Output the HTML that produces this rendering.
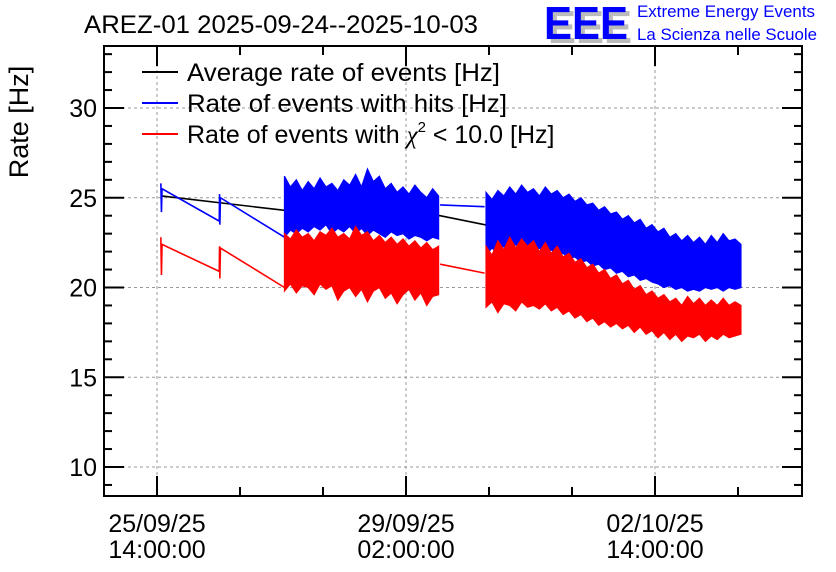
<!DOCTYPE html>
<html><head><meta charset="utf-8"><style>
body{margin:0;background:#fff;}
svg{display:block;font-family:"Liberation Sans",sans-serif;}
</style></head><body>
<svg id="chart" width="836" height="572" viewBox="0 0 836 572">
<text x="84" y="33" font-size="25" textLength="394" lengthAdjust="spacingAndGlyphs">AREZ-01 2025-09-24--2025-10-03</text>
<g>
<text x="548" y="43" font-size="46" fill="#bbb" font-weight="bold" textLength="84" lengthAdjust="spacingAndGlyphs">EEE</text>
<text x="544" y="39" font-size="46" fill="#0000ff" font-weight="bold" textLength="84" lengthAdjust="spacingAndGlyphs">EEE</text>
<text x="637" y="17" font-size="17" fill="#0000ff" textLength="178" lengthAdjust="spacingAndGlyphs">Extreme Energy Events</text>
<text x="637" y="40" font-size="17" fill="#0000ff" textLength="180" lengthAdjust="spacingAndGlyphs">La Scienza nelle Scuole</text>
</g>
<text transform="translate(28,122) rotate(-90)" text-anchor="middle" font-size="27">Rate [Hz]</text>
<g id="grid"></g>
<g id="series"></g>
<g id="axes"></g>
<g>
<line x1="142" y1="72" x2="178" y2="72" stroke="#000" stroke-width="2"/>
<text x="187" y="81" font-size="25" textLength="313" lengthAdjust="spacingAndGlyphs">Average rate of events [Hz]</text>
<line x1="142" y1="103" x2="178" y2="103" stroke="#0000ff" stroke-width="2"/>
<text x="187" y="112" font-size="25" textLength="320" lengthAdjust="spacingAndGlyphs">Rate of events with hits [Hz]</text>
<line x1="142" y1="134" x2="178" y2="134" stroke="#ff0000" stroke-width="2"/>
<text x="187" y="143" font-size="25">Rate of events with <tspan font-family="Liberation Serif" font-style="italic">χ</tspan><tspan font-size="15" dy="-11">2</tspan><tspan dy="11"> &lt; 10.0 [Hz]</tspan></text>
</g>
</svg>
<script>
// x: hours since 25/09/25 14:00
const xTickHours=[0,84,168];
const xTickLabels=[["25/09/25","14:00:00"],["29/09/25","02:00:00"],["02/10/25","14:00:00"]];
const yTicks=[10,15,20,25,30];
const blackT=[1.5,43,95.5,110.5,150,196];
const blackV=[25.1,24.3,24.0,23.5,23.0,21.3];
const blueSparseT=[1.3,1.5,1.7,21,21.1,21.2,21.4,43];
const blueSparseV=[25.8,24.2,25.5,23.7,25.2,23.5,25.0,22.8];
const blueGapT=[95.5,110.5];
const blueGapV=[24.6,24.5];
const redSparseT=[1.3,1.5,1.7,21,21.1,21.2,21.4,43];
const redSparseV=[22.8,20.7,22.4,20.9,22.3,20.5,22.2,20.0];
const redGapT=[95.5,110.5];
const redGapV=[21.3,20.8];
const seg1Start=43, seg2Start=111, stepH=2;
const blue1Hi=[26.2,25.6,26.0,25.4,25.9,25.5,26.1,25.6,25.8,25.4,26.0,25.7,26.3,25.6,26.6,25.9,26.2,25.5,25.8,25.3,25.6,25.2,25.7,25.3,25.0,25.5,25.1];
const blue1Lo=[22.8,23.2,23.0,23.3,23.1,23.4,23.2,23.5,23.0,23.3,23.1,23.4,23.0,23.3,22.9,23.2,23.0,22.8,23.1,22.9,23.0,22.7,22.9,22.8,22.6,22.8,22.7];
const red1Hi=[23.0,22.7,23.2,22.8,23.0,22.6,23.1,22.9,23.3,22.8,23.0,22.7,23.4,22.9,23.1,22.6,22.9,22.5,22.8,22.4,22.7,22.3,22.6,22.2,22.5,22.1,22.3];
const red1Lo=[19.8,20.2,19.7,20.1,20.0,19.6,20.2,19.9,20.1,19.3,19.8,20.0,19.5,19.9,19.2,19.8,20.0,19.4,19.7,19.1,19.6,19.9,19.3,19.7,19.0,19.5,19.6];
const blue2Hi=[25.3,24.9,25.4,25.1,25.6,25.2,25.7,25.3,25.5,25.1,25.6,25.2,25.4,25.0,25.2,24.8,25.0,24.6,24.7,24.3,24.5,24.1,24.2,23.8,24.0,23.6,23.8,23.3,23.5,23.1,23.3,22.8,23.0,22.6,22.9,22.5,22.8,22.4,22.9,22.5,23.0,22.6,22.7,22.4];
const blue2Lo=[21.8,22.2,21.9,22.3,22.0,22.4,22.1,22.3,22.0,22.2,21.9,22.1,21.8,21.9,21.6,21.7,21.4,21.5,21.2,21.3,21.0,21.1,20.8,20.9,20.6,20.7,20.4,20.5,20.3,20.2,20.0,20.1,19.9,20.0,19.8,19.9,19.8,20.0,19.9,20.0,19.8,20.0,19.9,20.0];
const red2Hi=[22.3,21.8,22.6,22.1,22.8,22.2,22.7,22.3,22.6,22.0,22.5,21.9,22.3,21.7,21.9,21.4,21.6,21.1,21.3,20.8,21.0,20.5,20.7,20.2,20.4,19.9,20.1,19.6,19.8,19.4,19.6,19.2,19.4,19.0,19.5,19.1,19.4,19.0,19.3,19.0,19.4,19.0,19.2,19.0];
const red2Lo=[18.9,19.2,18.6,19.1,19.0,18.7,19.2,18.9,19.0,18.8,19.1,18.7,18.9,18.5,18.7,18.3,18.5,18.1,18.3,17.9,18.1,17.8,18.0,17.7,17.9,17.5,17.8,17.4,17.6,17.2,17.5,17.1,17.4,17.0,17.3,17.2,17.4,17.0,17.3,17.1,17.4,17.2,17.3,17.4];

const L=104,R=802,T=46,B=496;
function X(h){return 157+h*(249/84);}
function Y(v){return 467-(v-10)*(359/20);}
const NS="http://www.w3.org/2000/svg";
function mk(tag,attrs,parent){const e=document.createElementNS(NS,tag);for(const k in attrs)e.setAttribute(k,attrs[k]);parent.appendChild(e);return e;}
const grid=document.getElementById('grid'),series=document.getElementById('series'),axes=document.getElementById('axes');
xTickHours.forEach(h=>{const g=mk('line',{x1:X(h),x2:X(h),y1:T,y2:B,stroke:'#999','stroke-dasharray':'3,3','stroke-width':1},grid);

});
yTicks.forEach(v=>{const g=mk('line',{x1:L,x2:R,y1:Y(v),y2:Y(v),stroke:'#999','stroke-dasharray':'3,3','stroke-width':1},grid);

});
function line(ts,vs,color,name){const p=mk('polyline',{points:ts.map((t,i)=>X(t)+','+Y(vs[i])).join(' '),fill:'none',stroke:color,'stroke-width':1.6},series);

}
function band(t0,hi,lo,color,name){const pts=[];hi.forEach((v,i)=>pts.push(X(t0+i*stepH)+','+Y(v)));
for(let i=lo.length-1;i>=0;i--)pts.push(X(t0+i*stepH)+','+Y(lo[i]));
const p=mk('polygon',{points:pts.join(' '),fill:color,stroke:color,'stroke-width':1.2,'stroke-linejoin':'miter'},series);

}
line(blackT,blackV,'#000','average-rate-line');
line(blueSparseT,blueSparseV,'#0000ff','hits-rate-line-early');
line(blueGapT,blueGapV,'#0000ff','hits-rate-line-gap');
band(seg1Start,blue1Hi,blue1Lo,'#0000ff','hits-rate-band-1');
band(seg2Start,blue2Hi,blue2Lo,'#0000ff','hits-rate-band-2');
line(redSparseT,redSparseV,'#ff0000','chi2-rate-line-early');
line(redGapT,redGapV,'#ff0000','chi2-rate-line-gap');
band(seg1Start,red1Hi,red1Lo,'#ff0000','chi2-rate-band-1');
band(seg2Start,red2Hi,red2Lo,'#ff0000','chi2-rate-band-2');
const fr=mk('rect',{x:L,y:T,width:R-L,height:B-T,fill:'none',stroke:'#000','stroke-width':2},axes);


for(let v=9;v<=33;v++){const major=(v%5===0);const len=major?20:8;
mk('line',{x1:L,x2:L+len,y1:Y(v),y2:Y(v),stroke:'#000','stroke-width':2},axes);
mk('line',{x1:R-len,x2:R,y1:Y(v),y2:Y(v),stroke:'#000','stroke-width':2},axes);}
yTicks.forEach(v=>{const t=mk('text',{x:97,y:Y(v)+9,'text-anchor':'end','font-size':25},axes);t.textContent=v;

});
for(let h=0;h<=230;h+=28){const x=X(h);if(x<L||x>R)continue;const major=(h%84===0);const len=major?20:9;
mk('line',{x1:x,x2:x,y1:B-len,y2:B,stroke:'#000','stroke-width':2},axes);
mk('line',{x1:x,x2:x,y1:T,y2:T+len,stroke:'#000','stroke-width':2},axes);}
xTickHours.forEach((h,i)=>{xTickLabels[i].forEach((s,j)=>{const t=mk('text',{x:X(h),y:532+j*26,'text-anchor':'middle','font-size':25},axes);t.textContent=s;

});});
</script>
</body></html>
